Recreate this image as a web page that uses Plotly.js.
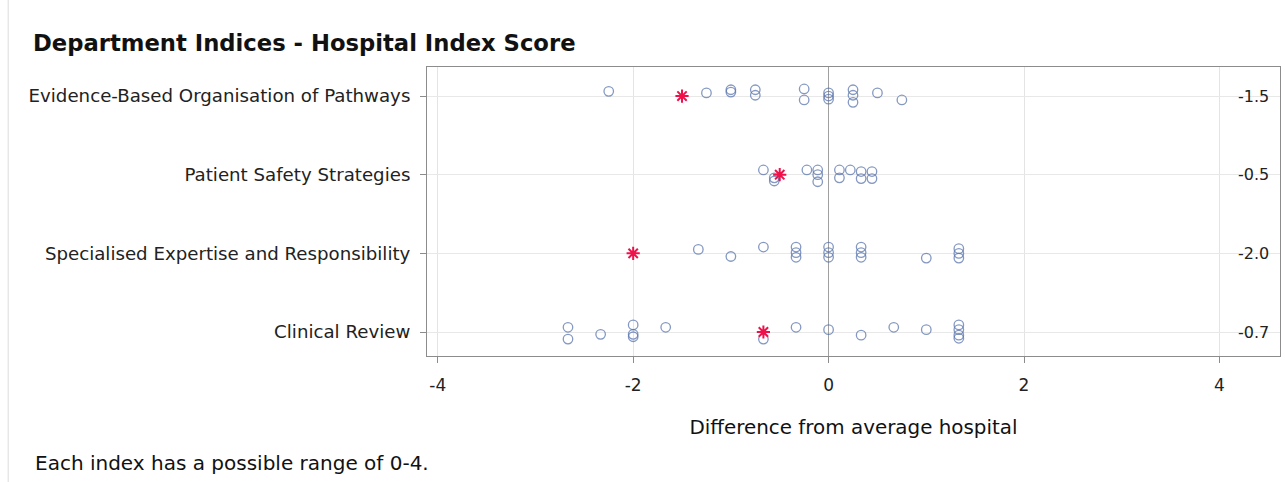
<!DOCTYPE html>
<html>
<head>
<meta charset="utf-8">
<script src="https://cdn.plot.ly/plotly-3.0.1.min.js"></script>
<style>html,body{margin:0;padding:0;background:#fff;}#chart{width:1285px;height:482px;}</style>
</head>
<body>
<div id="chart"></div>
<script>
// ---- data ----
var categories = ["Clinical Review", "Specialised Expertise and Responsibility", "Patient Safety Strategies", "Evidence-Based Organisation of Pathways"];
var hospitalDiff = [-0.667, -2.0, -0.5, -1.5];
var scoreLabels = ["-0.7", "-2.0", "-0.5", "-1.5"];

// other hospitals' differences from average, per category, with vertical jitter (category units)
var clinicalX = [-2.667, -2.667, -2.333, -2.0, -2.0, -2.0, -1.667, -0.667, -0.333, 0, 0.333, 0.667, 1.0, 1.333, 1.333, 1.333, 1.333];
var clinicalJ = [0.06, -0.09, -0.03, 0.09, -0.03, -0.06, 0.06, -0.09, 0.06, 0.03, -0.04, 0.06, 0.03, 0.09, 0.03, -0.04, -0.08];
var specialisedX = [-1.333, -1.0, -0.667, -0.333, -0.333, -0.333, 0, 0, 0, 0.333, 0.333, 0.333, 1.0, 1.333, 1.333, 1.333];
var specialisedJ = [0.05, -0.04, 0.08, 0.08, 0.01, -0.05, 0.08, 0.01, -0.05, 0.08, 0.01, -0.05, -0.06, 0.06, 0, -0.06];
var safetyX = [-0.667, -0.556, -0.556, -0.222, -0.111, -0.111, -0.111, 0.111, 0.111, 0.222, 0.333, 0.333, 0.444, 0.444];
var safetyJ = [0.06, -0.04, -0.08, 0.06, 0.06, 0, -0.09, 0.06, -0.04, 0.06, 0.04, -0.05, 0.04, -0.05];
var pathwaysX = [-2.25, -1.25, -1.0, -1.0, -0.75, -0.75, -0.25, -0.25, 0, 0, 0, 0.25, 0.25, 0.25, 0.5, 0.75];
var pathwaysJ = [0.06, 0.04, 0.08, 0.05, 0.08, 0.01, 0.09, -0.05, 0.04, 0, -0.04, 0.08, 0.01, -0.08, 0.04, -0.05];

var groupsX = [clinicalX, specialisedX, safetyX, pathwaysX];
var groupsJ = [clinicalJ, specialisedJ, safetyJ, pathwaysJ];

// ---- build traces ----
var ox = [], oy = [];
for (var g = 0; g < groupsX.length; g++) {
  for (var i = 0; i < groupsX[g].length; i++) {
    ox.push(groupsX[g][i]);
    oy.push(g + groupsJ[g][i]);
  }
}
var catIdx = categories.map(function(c, i){ return i; });
var FONT = 'DejaVu Sans, Liberation Sans, Arial, sans-serif';

var traces = [
  {
    type: 'scatter', mode: 'markers', x: ox, y: oy, hoverinfo: 'x',
    marker: {symbol: 'circle-open', size: 9.5, color: 'rgba(85,112,170,0.72)', line: {width: 1.3, color: 'rgba(85,112,170,0.72)'}}
  },
  {
    type: 'scatter', mode: 'markers', x: hospitalDiff, y: catIdx, hoverinfo: 'x',
    marker: {symbol: 'asterisk-open', size: 11, color: '#f0104a', line: {width: 2, color: '#f0104a'}}
  }
];

var annotations = scoreLabels.map(function(t, i){
  return {xref: 'x domain', yref: 'y', x: 0.99, y: i, text: t, showarrow: false, xanchor: 'right', yanchor: 'middle',
          font: {family: FONT, size: 16, color: '#222'}};
});
annotations.push({xref: 'paper', yref: 'paper', x: -0.4619, y: -0.37, xanchor: 'left', yanchor: 'middle', showarrow: false,
  text: 'Each index has a possible range of 0-4.', font: {family: FONT, size: 20, color: '#111'}});

var layout = {
  width: 1285, height: 482,
  margin: {l: 427, r: 5, t: 67, b: 126},
  paper_bgcolor: '#fff', plot_bgcolor: '#fff',
  showlegend: false,
  font: {family: FONT, color: '#222'},
  title: {text: '<b>Department Indices - Hospital Index Score</b>', x: 33/1285, xref: 'container', xanchor: 'left',
          y: 1 - 43/482, yref: 'container', yanchor: 'middle',
          font: {family: FONT, size: 22.7, color: '#111'}},
  xaxis: {
    range: [-4.11, 4.62], tickvals: [-4, -2, 0, 2, 4], ticktext: ['-4', '-2', '0', '2', '4'],
    showgrid: true, gridcolor: '#e4e4e4', zeroline: true, zerolinecolor: '#a0a0a0', zerolinewidth: 1,
    showline: true, mirror: true, linecolor: '#8c8c8c', linewidth: 1,
    ticks: 'outside', ticklen: 6, tickcolor: '#8c8c8c', ticklabelstandoff: 8,
    tickfont: {size: 17, color: '#222'},
    title: {text: 'Difference from average hospital', standoff: 25, font: {size: 19.9, color: '#111'}}
  },
  yaxis: {
    range: [-0.305, 3.369], tickvals: catIdx, ticktext: categories,
    showgrid: true, gridcolor: '#e8e8e8', zeroline: false,
    showline: true, mirror: true, linecolor: '#8c8c8c', linewidth: 1,
    ticks: 'outside', ticklen: 6, tickcolor: '#8c8c8c', ticklabelstandoff: 6,
    tickfont: {size: 18.2, color: '#222'}
  },
  annotations: annotations,
  shapes: [{type: 'line', xref: 'paper', yref: 'paper', x0: -0.491, x1: -0.491, y0: -0.44, y1: 1.24, line: {color: '#dcdcdc', width: 1}}]
};

Plotly.newPlot('chart', traces, layout, {displayModeBar: false, staticPlot: true});
</script>
</body>
</html>
